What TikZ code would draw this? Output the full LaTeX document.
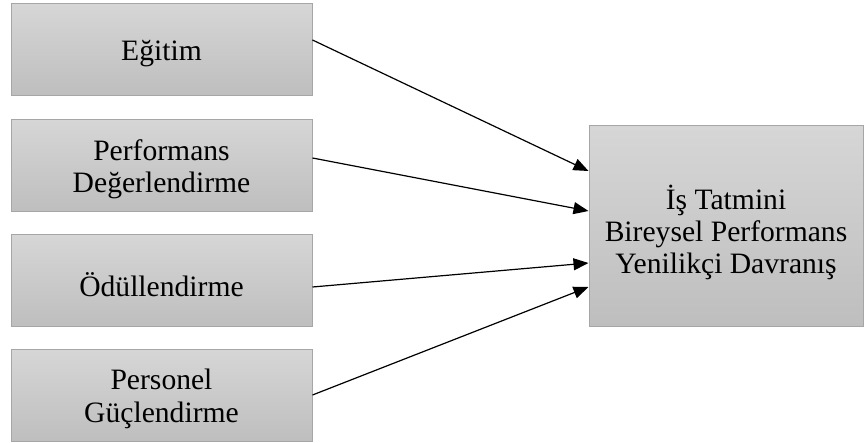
\documentclass[tikz,border=0pt]{standalone}
\usepackage{fontspec}
\setmainfont{Liberation Serif}
\usetikzlibrary{arrows.meta}
\definecolor{boxtop}{RGB}{214,214,214}
\definecolor{boxbot}{RGB}{190,190,190}
\definecolor{boxline}{RGB}{166,166,166}
\tikzset{
  leftbox/.style={draw=boxline, line width=0.5pt, top color=boxtop, bottom color=boxbot,
    minimum width=150.5pt, minimum height=46pt, inner sep=0pt},
  rightbox/.style={leftbox, minimum width=137pt, minimum height=100.5pt},
  boxtext/.style={align=center, inner sep=0pt, font=\fontsize{14.8}{16.2}\selectfont},
  conn/.style={line width=0.6pt, -{Triangle[length=7.5pt,width=6pt]}}
}
\begin{document}
\begin{tikzpicture}
\useasboundingbox (0,0) rectangle (432pt,-221.5pt);
\node[leftbox, label={[boxtext, yshift=-2pt]center:Eğitim}] (b1) at (80.75pt,-25pt) {};
\node[leftbox, label={[boxtext, yshift=-1.5pt]center:{Performans\\Değerlendirme}}] (b2) at (80.75pt,-83pt) {};
\node[leftbox, label={[boxtext, yshift=-2pt]center:Ödüllendirme}] (b3) at (80.75pt,-140.5pt) {};
\node[leftbox, label={[boxtext, yshift=-1.5pt]center:{Personel\\Güçlendirme}}] (b4) at (80.75pt,-198pt) {};
\node[rightbox, label={[boxtext, yshift=-3pt]center:{İş Tatmini\\Bireysel Performans\\Yenilikçi Davranış}}] (r) at (363pt,-113.25pt) {};
\draw[conn] ([yshift=5pt]b1.east) -- ([yshift=27.75pt]r.west);
\draw[conn] ([yshift=4pt]b2.east) -- ([yshift=7.75pt]r.west);
\draw[conn] ([yshift=-3pt]b3.east) -- ([yshift=-18.25pt]r.west);
\draw[conn] ([yshift=0.5pt]b4.east) -- ([yshift=-30.25pt]r.west);
\end{tikzpicture}
\end{document}
